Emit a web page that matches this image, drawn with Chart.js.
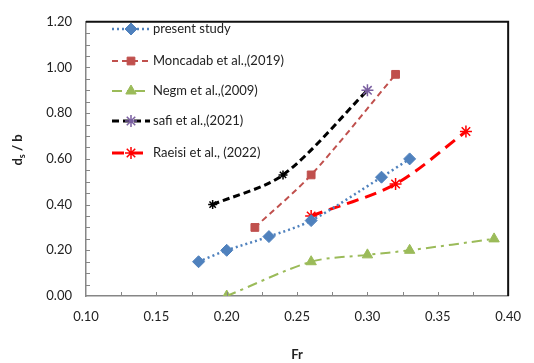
<!DOCTYPE html>
<html lang="en">
<head>
<meta charset="UTF-8">
<title>ds/b vs Fr</title>
<script src="https://cdn.jsdelivr.net/npm/chart.js"></script>
<style>
    html, body { margin: 0; padding: 0; background: #fff; }
    #box { width: 534px; height: 363px; }
</style>
</head>
<body>
<div id="box"><canvas id="grafico"></canvas></div>
<script>
    // data per study (Fr, ds/b)
    const presentFr = [0.18, 0.20, 0.23, 0.26, 0.31, 0.33];
    const presentDs = [0.15, 0.20, 0.26, 0.33, 0.52, 0.60];
    const moncadaFr = [0.22, 0.26, 0.32];
    const moncadaDs = [0.30, 0.53, 0.97];
    const negmFr = [0.20, 0.26, 0.30, 0.33, 0.39];
    const negmDs = [0.00, 0.15, 0.18, 0.20, 0.25];
    const safiFr = [0.19, 0.24, 0.30];
    const safiDs = [0.40, 0.53, 0.90];
    const raeisiFr = [0.26, 0.32, 0.37];
    const raeisiDs = [0.35, 0.49, 0.72];

    const xTicks = [0.10, 0.15, 0.20, 0.25, 0.30, 0.35, 0.40];
    const yTicks = [0.00, 0.20, 0.40, 0.60, 0.80, 1.00, 1.20];

    const FONT = 'Lato, "Open Sans", sans-serif';

    function pts(xs, ys) {
        return xs.map((x, i) => ({ x: x, y: ys[i] }));
    }

    const series = [
        { label: 'present study', data: pts(presentFr, presentDs), line: '#4F81BD', dash: [2, 3], width: 2.5,
          mark: 'rectRot', mcolor: '#4F81BD', r: 6 },
        { label: 'Moncadab et al.,(2019)', data: pts(moncadaFr, moncadaDs), line: '#C0504D', dash: [6, 4], width: 2,
          mark: 'rect', mcolor: '#C0504D', r: 5.5 },
        { label: 'Negm et al.,(2009)', data: pts(negmFr, negmDs), line: '#9BBB59', dash: [10, 5, 3, 5], width: 2,
          mark: 'triangle', mcolor: '#9BBB59', r: 6 },
        // safi: the first two markers are plotted black, the last one purple
        { label: 'safi et al.,(2021)', data: pts(safiFr, safiDs), line: '#000000', dash: [7, 4], width: 3,
          mark: 'star', mcolor: ['#000000', '#000000', '#7A5FA0'], legendColor: '#7A5FA0', r: [4.5, 4.5, 6] },
        { label: 'Raeisi et al., (2022)', data: pts(raeisiFr, raeisiDs), line: '#FF0000', dash: [12, 7], width: 3,
          mark: 'star', mcolor: '#FF0000', r: 6 }
    ];

    const datasets = series.map(s => ({
        label: s.label,
        data: s.data,
        showLine: true,
        tension: 0.3,
        borderColor: s.line,
        borderWidth: s.width,
        borderDash: s.dash,
        pointStyle: s.mark,
        pointRadius: s.r,
        pointBackgroundColor: s.mcolor,
        pointBorderColor: s.mcolor,
        pointBorderWidth: s.mark === 'star' ? 1.5 : 1,
        pointHoverRadius: s.r
    }));

    // inside tick marks, frame, legend box and the y title with subscript
    const decor = {
        id: 'decor',
        afterDatasetsDraw(chart) {
            const ctx = chart.ctx;
            const xs = chart.scales.x, ys = chart.scales.y;
            const a = chart.chartArea;
            ctx.save();

            // top and right frame
            ctx.strokeStyle = '#111';
            ctx.lineWidth = 2;
            ctx.beginPath();
            ctx.moveTo(a.left, a.top);
            ctx.lineTo(a.right, a.top);
            ctx.lineTo(a.right, a.bottom);
            ctx.stroke();

            // tick marks pointing inwards
            ctx.strokeStyle = '#868686';
            ctx.lineWidth = 1;
            ctx.beginPath();
            for (let v = 0.125; v < 0.4; v += 0.025) {
                const px = Math.round(xs.getPixelForValue(v)) + 0.5;
                ctx.moveTo(px, a.bottom);
                ctx.lineTo(px, a.bottom - 4);
            }
            for (let v = 0.05; v < 1.2; v += 0.05) {
                const py = Math.round(ys.getPixelForValue(v)) + 0.5;
                ctx.moveTo(a.left, py);
                ctx.lineTo(a.left + 4, py);
            }
            ctx.stroke();

            // legend
            ctx.fillStyle = '#fff';
            ctx.fillRect(a.left + 22, a.top + 5, 150, 156);
            const rowY = [29, 61, 91, 121, 153];
            series.forEach((s, i) => {
                const ds = chart.data.datasets[i];
                const y = rowY[i];
                const col = s.legendColor || s.mcolor;
                const rad = Array.isArray(s.r) ? s.r[s.r.length - 1] : s.r;
                ctx.save();
                ctx.strokeStyle = s.line;
                ctx.lineWidth = s.width;
                ctx.setLineDash(s.dash);
                ctx.beginPath();
                ctx.moveTo(112, y);
                ctx.lineTo(150, y);
                ctx.stroke();
                ctx.restore();
                ctx.save();
                ctx.fillStyle = col;
                ctx.strokeStyle = col;
                ctx.lineWidth = ds.pointBorderWidth;
                ctx.setLineDash([]);
                Chart.helpers.drawPoint(ctx, {
                    pointStyle: s.mark,
                    radius: rad,
                    borderWidth: ds.pointBorderWidth,
                    rotation: 0
                }, 131, y);
                ctx.restore();
                ctx.fillStyle = '#222';
                ctx.font = '13px ' + FONT;
                ctx.textAlign = 'left';
                ctx.textBaseline = 'middle';
                ctx.fillText(s.label, 153, y);
            });

            // y axis title: d with subscript s / b
            ctx.translate(18, 150);
            ctx.rotate(-Math.PI / 2);
            ctx.fillStyle = '#222';
            ctx.textBaseline = 'middle';
            ctx.textAlign = 'left';
            ctx.font = 'bold 13px ' + FONT;
            const w1 = ctx.measureText('d').width;
            ctx.font = 'bold 9px ' + FONT;
            const w2 = ctx.measureText('s').width;
            ctx.font = 'bold 13px ' + FONT;
            const w3 = ctx.measureText(' / b').width;
            const start = -(w1 + w2 + w3) / 2;
            ctx.fillText('d', start, 0);
            ctx.font = 'bold 9px ' + FONT;
            ctx.fillText('s', start + w1, 4);
            ctx.font = 'bold 13px ' + FONT;
            ctx.fillText(' / b', start + w1 + w2, 0);
            ctx.restore();
        }
    };

    new Chart(document.getElementById('grafico'), {
        type: 'scatter',
        data: { datasets: datasets },
        options: {
            responsive: true,
            maintainAspectRatio: false,
            animation: false,
            layout: { padding: { left: 0, top: 13, right: 13, bottom: 0 } },
            plugins: {
                legend: { display: false },
                tooltip: { enabled: false }
            },
            scales: {
                x: {
                    type: 'linear',
                    min: 0.10,
                    max: 0.40,
                    afterBuildTicks: s => { s.ticks = xTicks.map(v => ({ value: v })); },
                    afterFit: s => { s.height = 67; },
                    grid: { drawOnChartArea: false, drawTicks: false },
                    border: { color: '#868686', width: 1.5 },
                    ticks: {
                        padding: 13,
                        color: '#222',
                        font: { family: FONT, size: 13 },
                        callback: v => v.toFixed(2)
                    },
                    title: {
                        display: true,
                        text: 'Fr',
                        color: '#222',
                        font: { family: FONT, size: 13, weight: 'bold' },
                        padding: { top: 20, bottom: 0 }
                    }
                },
                y: {
                    type: 'linear',
                    min: 0,
                    max: 1.2,
                    afterBuildTicks: s => { s.ticks = yTicks.map(v => ({ value: v })); },
                    afterFit: s => { s.width = 86; },
                    grid: { drawOnChartArea: false, drawTicks: false },
                    border: { color: '#868686', width: 1.5 },
                    ticks: {
                        padding: 14,
                        color: '#222',
                        font: { family: FONT, size: 13 },
                        callback: v => v.toFixed(2)
                    }
                }
            }
        },
        plugins: [decor]
    });
</script>
</body>
</html>
